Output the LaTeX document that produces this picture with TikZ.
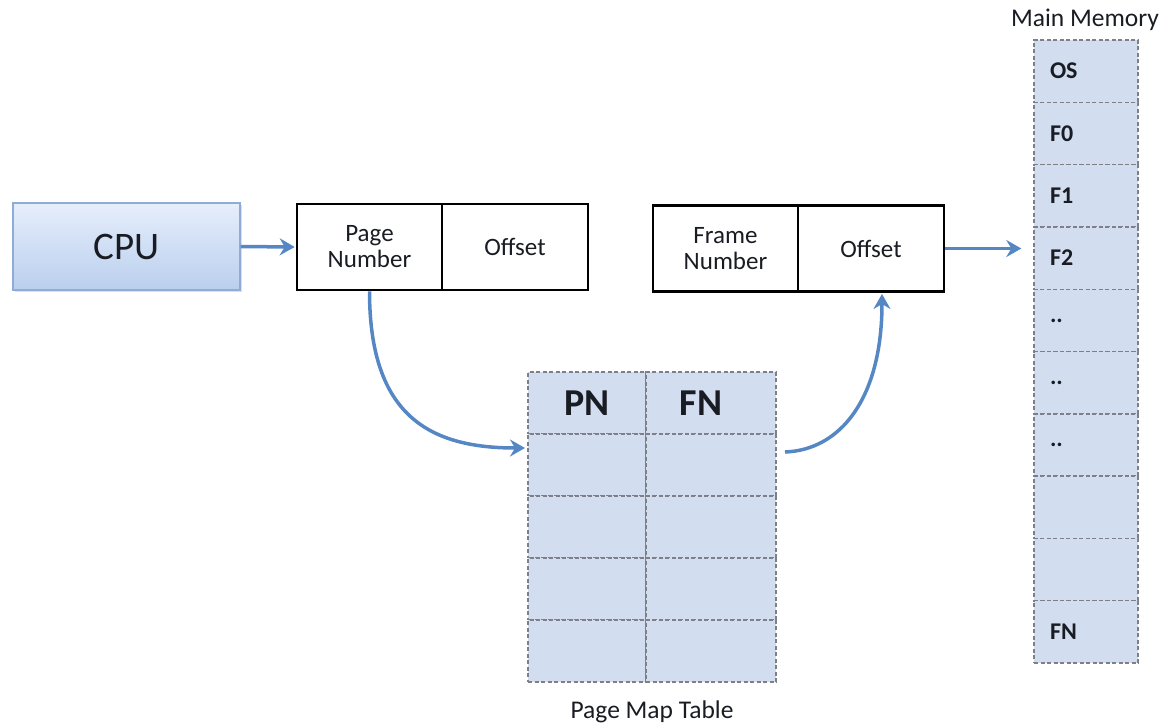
\documentclass[tikz,border=0pt]{standalone}
\usepackage{fontspec}
\setmainfont{Carlito}
\usetikzlibrary{arrows.meta,shadows}
\definecolor{arrowblue}{RGB}{84,135,195}
\definecolor{cellblue}{RGB}{210,222,240}
\definecolor{dashgray}{RGB}{125,128,135}
\definecolor{cputop}{RGB}{230,238,251}
\definecolor{cpubot}{RGB}{186,207,238}
\definecolor{cpuborder}{RGB}{145,172,212}
\definecolor{txt}{RGB}{25,28,35}
\begin{document}
\begin{tikzpicture}[x=1pt,y=-1pt,
  cpubox/.style={draw=cpuborder, line width=1.2pt, top color=cputop, bottom color=cpubot,
    minimum width=227pt, minimum height=87pt, inner sep=0pt, text=txt,
    font=\fontsize{39}{41}\selectfont,
    drop shadow={opacity=0.25, shadow xshift=1.5pt, shadow yshift=-2pt}},
  addr/.style={draw=black, line width=2.6pt, minimum height=86pt, inner sep=0pt,
    align=center, text=txt, font=\fontsize{25}{26}\selectfont},
  cell/.style={draw=dashgray, dash pattern=on 4pt off 2.5pt, line width=1.4pt, fill=cellblue,
    minimum height=62pt, inner sep=0pt, text=txt, font=\fontsize{38}{40}\bfseries},
  head/.style={inner sep=0pt, text=txt, font=\fontsize{38}{40}\bfseries},
  memcell/.style={draw=dashgray, dash pattern=on 4pt off 2.5pt, line width=1.4pt, fill=cellblue,
    minimum width=104pt, minimum height=62.3pt, inner sep=0pt, text width=72pt, align=left,
    text=txt, font=\fontsize{24}{26}\bfseries},
  lbl/.style={inner sep=0pt, text=txt, font=\fontsize{25.5}{27}\selectfont},
  flow/.style={draw=arrowblue, line width=3.5pt, -{Stealth[length=15pt,width=17pt,inset=5pt]}}]
\useasboundingbox (0,0) rectangle (1161,726);

% CPU
\node[cpubox] (cpu) at (126.5,246.5) {CPU};

% logical address
\node[addr, minimum width=145pt] (pn) at (369.5,247) {Page\\Number};
\node[addr, minimum width=146pt] (po) at (515,247) {Offset};

% physical address
\node[addr, minimum width=145pt] (fn) at (725.5,248.5) {Frame\\Number};
\node[addr, minimum width=146pt] (fo) at (871,248.5) {Offset};

% page map table
\node[cell, minimum width=118pt] (t1a) at (587,403) {PN};
\node[cell, minimum width=130pt] (t1b) at (711,403) {};
\node[head] (fnhead) at (701,403) {FN};
\node[cell, minimum width=118pt] (t2a) at (587,465) {};
\node[cell, minimum width=130pt] (t2b) at (711,465) {};
\node[cell, minimum width=118pt] (t3a) at (587,527) {};
\node[cell, minimum width=130pt] (t3b) at (711,527) {};
\node[cell, minimum width=118pt] (t4a) at (587,589) {};
\node[cell, minimum width=130pt] (t4b) at (711,589) {};
\node[cell, minimum width=118pt] (t5a) at (587,651) {};
\node[cell, minimum width=130pt] (t5b) at (711,651) {};
\node[lbl] (ptlabel) at (652,712) {Page Map Table};

% main memory
\node[lbl] (mmlabel) at (1085,20) {Main Memory};
\node[memcell] (m1) at (1086,71.2) {OS};
\node[memcell] (m2) at (1086,133.5) {F0};
\node[memcell] (m3) at (1086,195.8) {F1};
\node[memcell] (m4) at (1086,258.1) {F2};
\node[memcell] (m5) at (1086,320.4) {..};
\node[memcell] (m6) at (1086,382.7) {..};
\node[memcell] (m7) at (1086,445.0) {..};
\node[memcell] (m8) at (1086,507.3) {};
\node[memcell] (m9) at (1086,569.6) {};
\node[memcell] (m10) at (1086,631.9) {FN};

% connectors
\coordinate (tin) at (525,448);
\coordinate (tout) at (785,452);
\coordinate (foin) at (882,294);
\draw[flow] (cpu.east) -- ([xshift=-1pt]pn.west);
\draw[flow] (pn.south) .. controls +(0,125) and +(-95,0) .. (tin);
\draw[flow] (tout) .. controls +(55,-2) and +(0,105) .. (foin);
\draw[flow, shorten >=12pt] (fo.east) -- (fo.east -| m4.west);
\end{tikzpicture}
\end{document}
